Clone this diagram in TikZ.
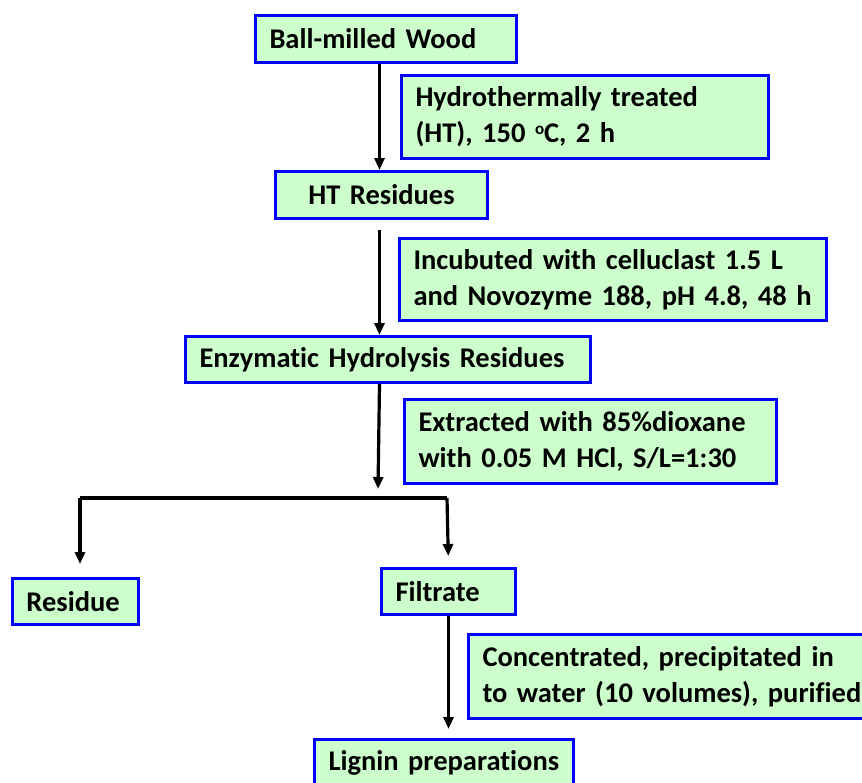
\documentclass[tikz,border=0pt]{standalone}
\usepackage{fontspec}
\setmainfont[Ligatures=NoCommon,WordSpace=0.55]{Carlito}
\usepackage{tikz}
\usetikzlibrary{arrows.meta,positioning,calc}
\definecolor{PaleGreen}{HTML}{CCFFCC}
\definecolor{BoxBlue}{HTML}{0000FF}
\newcommand{\degsup}{\raisebox{8pt}{\fontsize{17}{17}\selectfont o}}
\hyphenpenalty=10000

\begin{document}
\begin{tikzpicture}[x=1pt,y=-1pt,
  box/.style={draw=BoxBlue,line width=3pt,fill=PaleGreen,anchor=north west,align=left,
    inner xsep=14pt,inner ysep=0pt,font=\fontsize{28.5}{36}\selectfont\bfseries},
  arr/.style={-{Triangle[length=12pt,width=10pt]},line width=3.2pt},
  line/.style={line width=3.2pt}
]
\useasboundingbox (0,0) rectangle (862,782);
\node[box,text width=233pt,minimum height=47pt] (BW) at (254,14) {Ball-milled Wood};
\node[box,text width=339pt,minimum height=83pt] (HT) at (400,74) {Hydrothermally treated\\(HT), 150 \degsup C, 2 h};
\node[box,text width=184pt,minimum height=47pt,align=center] (HTR) at (274,170) {HT Residues};
\node[box,text width=399pt,minimum height=82pt] (INC) at (398,237) {Incubuted with celluclast 1.5 L\\and Novozyme 188, pH 4.8, 48 h};
\node[box,text width=377pt,minimum height=46pt] (EHR) at (184,335) {Enzymatic Hydrolysis Residues};
\node[box,text width=344pt,minimum height=84pt] (EXT) at (403,398) {Extracted with 85\%dioxane\\with 0.05 M HCl, S/L=1:30};
\node[box,text width=98pt,minimum height=46pt] (RES) at (11,577) {Residue};
\node[box,text width=106pt,minimum height=46pt] (FIL) at (380,567) {Filtrate};
\node[box,text width=400pt,minimum height=84pt] (CON) at (467,633) {Concentrated, precipitated in\\to water (10 volumes), purified};
\node[box,text width=231pt,minimum height=46pt] (LIG) at (313,738) {Lignin preparations};
% split below the extraction
\coordinate (split) at (378,489);
\coordinate (barL) at (80,498);
\coordinate (barR) at (447,498);
\draw[arr] ([xshift=-6.5pt]BW.south) -- ([xshift=-2pt]HTR.north);
\draw[arr,shorten <=10pt] ([xshift=-2pt]HTR.south) -- ([xshift=-8.5pt]EHR.north);
\draw[arr] ([xshift=-8.5pt]EHR.south) -- (split);
\draw[line] (barL) -- (barR);
\draw[arr,shorten >=13pt] (barL) -- (barL |- RES.north);
\draw[arr,shorten >=11pt] (barR) -- (FIL.north);
\draw[arr,shorten >=9pt] (FIL.south) -- ([xshift=4.5pt]LIG.north);
\end{tikzpicture}
\end{document}
